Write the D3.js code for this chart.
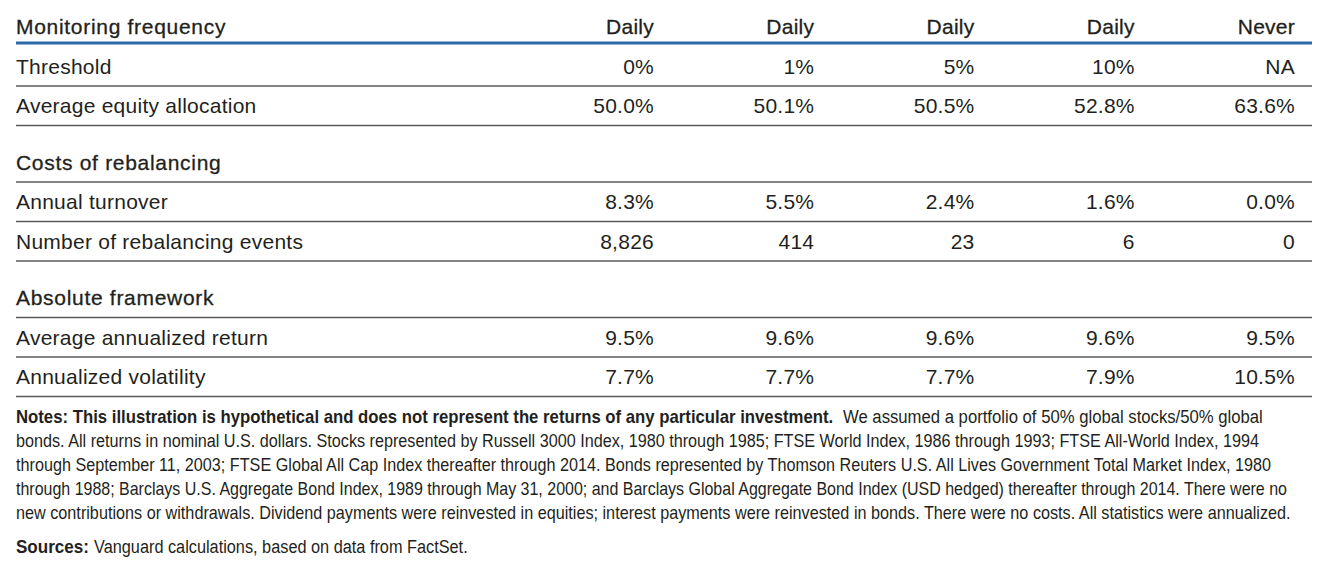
<!DOCTYPE html>
<html>
<head>
<meta charset="utf-8">
<script src="https://cdn.jsdelivr.net/npm/d3@7"></script>
<style>
  html, body { margin: 0; padding: 0; background: #ffffff; }
  svg { display: block; }
</style>
</head>
<body>
<svg id="chart" width="1328" height="570"></svg>
<script>
// ---- Data ----
const monitoringFrequency = ["Daily", "Daily", "Daily", "Daily", "Never"];
const thresholds = ["0%", "1%", "5%", "10%", "NA"];
const avgEquityAllocation = [50.0, 50.1, 50.5, 52.8, 63.6];
const annualTurnover = [8.3, 5.5, 2.4, 1.6, 0.0];
const rebalancingEvents = [8826, 414, 23, 6, 0];
const avgAnnualizedReturn = [9.5, 9.6, 9.6, 9.6, 9.5];
const annualizedVolatility = [7.7, 7.7, 7.7, 7.9, 10.5];

const noteBold = "Notes: This illustration is hypothetical and does not represent the returns of any particular investment.";
const noteLines = [
  "We assumed a portfolio of 50% global stocks/50% global",
  "bonds. All returns in nominal U.S. dollars. Stocks represented by Russell 3000 Index, 1980 through 1985; FTSE World Index, 1986 through 1993; FTSE All-World Index, 1994",
  "through September 11, 2003; FTSE Global All Cap Index thereafter through 2014. Bonds represented by Thomson Reuters U.S. All Lives Government Total Market Index, 1980",
  "through 1988; Barclays U.S. Aggregate Bond Index, 1989 through May 31, 2000; and Barclays Global Aggregate Bond Index (USD hedged) thereafter through 2014. There were no",
  "new contributions or withdrawals. Dividend payments were reinvested in equities; interest payments were reinvested in bonds. There were no costs. All statistics were annualized."
];
const sourceBold = "Sources:";
const sourceText = "Vanguard calculations, based on data from FactSet.";

// ---- Table model built from the arrays ----
const pct1 = d3.format(".1f");
const rows = [
  { kind: "header",  label: "Monitoring frequency", values: monitoringFrequency },
  { kind: "data",    label: "Threshold", values: thresholds },
  { kind: "data",    label: "Average equity allocation", values: avgEquityAllocation.map(v => pct1(v) + "%") },
  { kind: "section", label: "Costs of rebalancing", values: [] },
  { kind: "data",    label: "Annual turnover", values: annualTurnover.map(v => pct1(v) + "%") },
  { kind: "data",    label: "Number of rebalancing events", values: rebalancingEvents.map(d3.format(",")) },
  { kind: "section", label: "Absolute framework", values: [] },
  { kind: "data",    label: "Average annualized return", values: avgAnnualizedReturn.map(v => pct1(v) + "%") },
  { kind: "data",    label: "Annualized volatility", values: annualizedVolatility.map(v => pct1(v) + "%") }
];

// ---- Layout ----
const svg = d3.select("#chart");
const left = 16, right = 1312;
const textColor = "#231f20";
const font = "'Liberation Sans', Arial, sans-serif";

const x = d3.scaleLinear().domain([0, monitoringFrequency.length - 1]).range([654, 1295]);

let sectionCount = 0;
rows.forEach((r, i) => {
  if (r.kind === "section") sectionCount++;
  r.index = i;
  r.gaps = sectionCount;
});
const y = d3.scaleLinear().domain([0, 1]).range([34, 73.5]);
const yRow = r => y(r.index) + r.gaps * 17;

const g = svg.append("g");

// Rules
rows.forEach(r => {
  const yy = r.kind === "header" ? yRow(r) + 9 : yRow(r) + 12.5;
  g.append("line")
    .attr("x1", left).attr("x2", right)
    .attr("y1", yy).attr("y2", yy)
    .attr("stroke", r.kind === "header" ? "#2c69ab" : "#5a5a5a")
    .attr("stroke-width", r.kind === "header" ? 3.2 : 1.4);
});

// Row labels
const labels = g.selectAll("text.label").data(rows).join("text")
  .attr("class", "label")
  .attr("x", left)
  .attr("y", d => yRow(d))
  .attr("font-family", font)
  .attr("font-size", 21)
  .attr("fill", textColor)
  .text(d => d.label);
labels.filter(d => d.kind !== "data")
  .attr("stroke", textColor)
  .attr("stroke-width", 0.3)
  .attr("letter-spacing", 0.7);
labels.filter(d => d.kind === "data")
  .attr("letter-spacing", 0.25);

// Cell values
rows.forEach(r => {
  g.selectAll(null).data(r.values).join("text")
    .attr("x", (d, i) => x(i))
    .attr("y", yRow(r))
    .attr("text-anchor", "end")
    .attr("font-family", font)
    .attr("font-size", 21)
    .attr("letter-spacing", 0.25)
    .attr("fill", textColor)
    .attr("stroke", r.kind === "header" ? textColor : "none")
    .attr("stroke-width", r.kind === "header" ? 0.3 : 0)
    .text(d => d);
});

// Notes: condensed look via horizontal scaling to the measured line extents
const noteSize = 19;
const noteBase = 423, notePitch = 24;
const noteEnds = [1263, 1260, 1272, 1288, 1291];

function fitText(str, x0, x1, yy, bold) {
  const t = g.append("text")
    .attr("x", 0).attr("y", 0)
    .attr("font-family", font).attr("font-size", noteSize)
    .attr("font-weight", bold ? "bold" : "normal")
    .attr("fill", textColor)
    .text(str);
  const w = t.node().getComputedTextLength();
  const sx = (x1 - x0) / w;
  t.attr("transform", `translate(${x0},${yy}) scale(${sx},1)`);
  return t;
}

fitText(noteBold, left, 834, noteBase, true);
noteLines.forEach((t, i) => {
  const x0 = i === 0 ? 843 : left;
  fitText(t, x0, noteEnds[i], noteBase + i * notePitch, false);
});

const srcY = 553;
fitText(sourceBold, left, 89, srcY, true);
fitText(sourceText, 94, 468, srcY, false);
</script>
</body>
</html>
